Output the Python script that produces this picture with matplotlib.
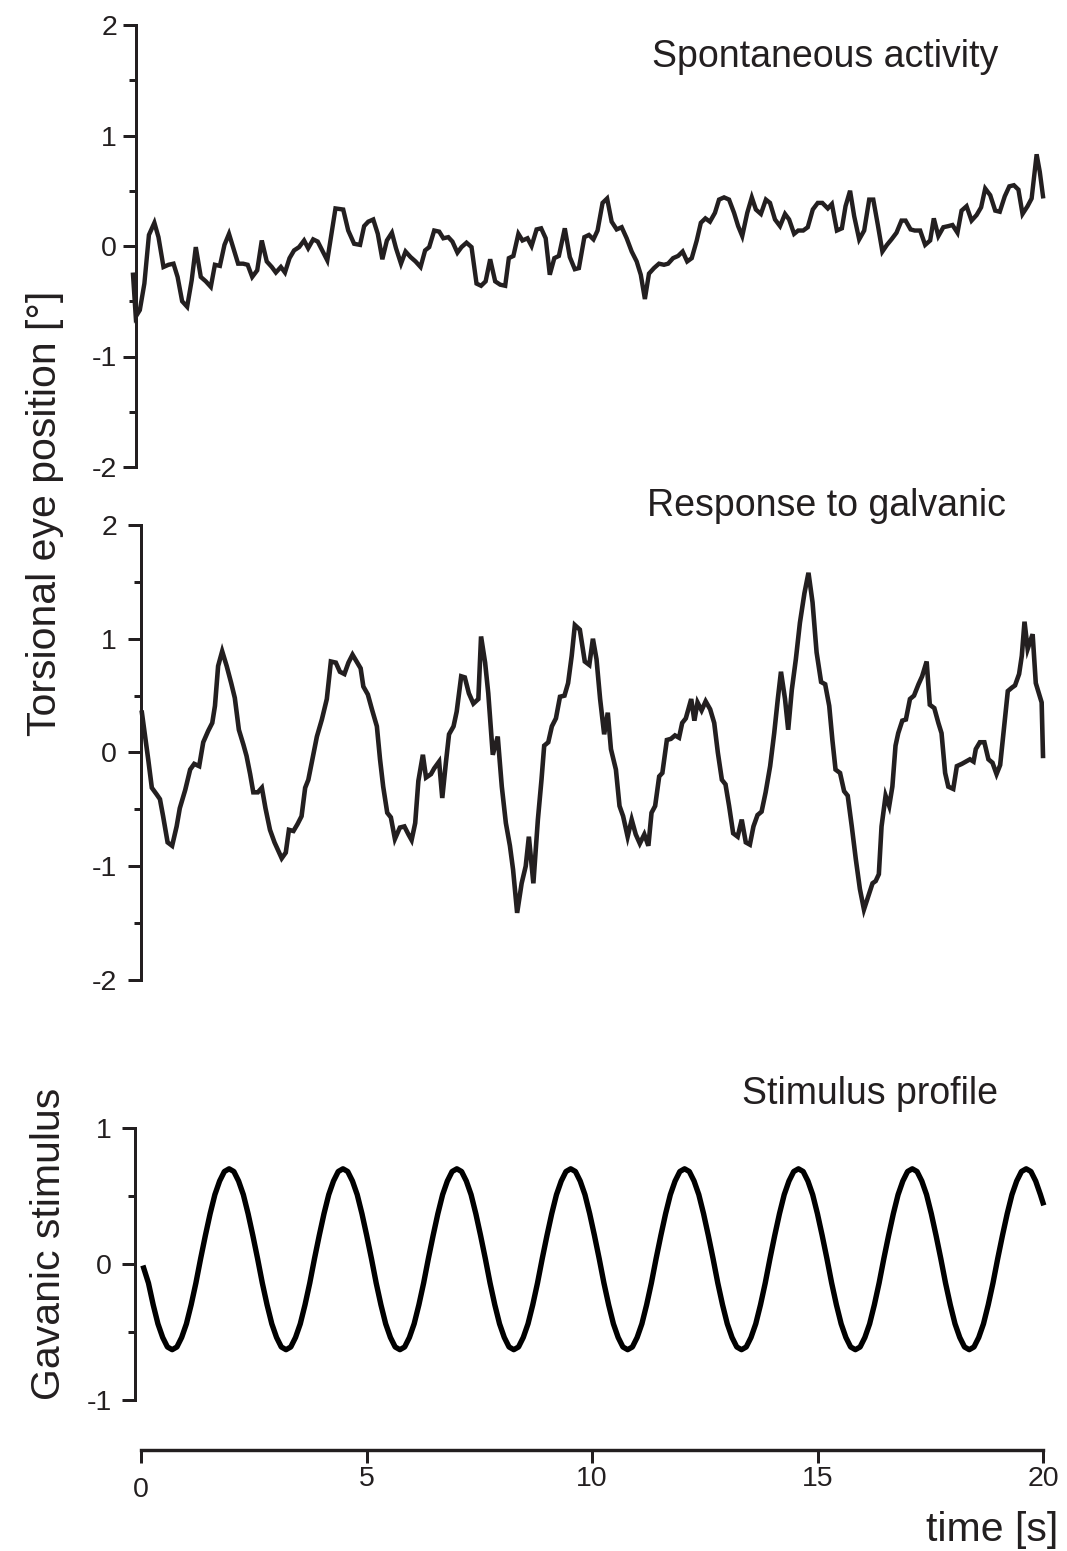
import numpy as np
import matplotlib
matplotlib.use("Agg")
import matplotlib.pyplot as plt
from matplotlib.ticker import MultipleLocator, FixedLocator
import matplotlib.transforms as mtransforms

plt.rcParams['font.family'] = ['Liberation Sans', 'DejaVu Sans']

# ---------------- data ----------------
spont_t = [0.00, 0.06, 0.15, 0.25, 0.35, 0.47, 0.56, 0.67, 0.78, 0.89, 0.98, 1.08, 1.19, 1.29, 1.38, 1.49,
           1.60, 1.71, 1.80, 1.91, 2.01, 2.11, 2.20, 2.31, 2.42, 2.52, 2.62, 2.73, 2.83, 2.94, 3.05, 3.14,
           3.25, 3.34, 3.44, 3.54, 3.65, 3.76, 3.85, 3.96, 4.06, 4.16, 4.27, 4.45, 4.62, 4.73, 4.86, 4.99,
           5.08, 5.17, 5.28, 5.38, 5.48, 5.58, 5.69, 5.78, 5.89, 5.99, 6.10, 6.21, 6.32, 6.42, 6.51, 6.62,
           6.73, 6.82, 6.93, 7.02, 7.13, 7.22, 7.33, 7.44, 7.55, 7.65, 7.75, 7.85, 7.96, 8.07, 8.18, 8.26,
           8.36, 8.47, 8.56, 8.67, 8.76, 8.87, 8.97, 9.07, 9.16, 9.26, 9.36, 9.49, 9.60, 9.71, 9.80, 9.92,
           10.02, 10.12, 10.21, 10.32, 10.42, 10.52, 10.63, 10.74, 10.85, 10.96, 11.07, 11.16, 11.25, 11.34,
           11.45, 11.56, 11.67, 11.76, 11.87, 11.98, 12.08, 12.18, 12.28, 12.39, 12.48, 12.58, 12.68, 12.79,
           12.88, 12.99, 13.10, 13.21, 13.30, 13.39, 13.50, 13.60, 13.69, 13.80, 13.91, 14.00, 14.11, 14.22,
           14.33, 14.42, 14.53, 14.62, 14.73, 14.83, 14.94, 15.05, 15.15, 15.27, 15.36, 15.47, 15.58, 15.66,
           15.76, 15.85, 15.96, 16.07, 16.18, 16.27, 16.37, 16.47, 16.57, 16.67, 16.78, 16.89, 16.98, 17.09,
           17.18, 17.30, 17.41, 17.52, 17.60, 17.70, 17.81, 17.92, 18.01, 18.12, 18.21, 18.32, 18.43, 18.54,
           18.64, 18.73, 18.84, 18.95, 19.05, 19.16, 19.26, 19.36, 19.46, 19.55, 19.66, 19.75, 19.86, 19.93,
           20.00]
spont_v = [-0.26, -0.64, -0.58, -0.34, 0.10, 0.21, 0.08, -0.19, -0.17, -0.16, -0.28, -0.50, -0.55, -0.31, -0.01, -0.28,
           -0.32, -0.37, -0.17, -0.18, 0.01, 0.11, -0.01, -0.16, -0.16, -0.17, -0.28, -0.22, 0.05, -0.14, -0.19, -0.24,
           -0.19, -0.24, -0.11, -0.04, -0.01, 0.05, -0.02, 0.06, 0.04, -0.04, -0.13, 0.34, 0.33, 0.14, 0.02, 0.01,
           0.18, 0.22, 0.24, 0.11, -0.12, 0.05, 0.12, -0.02, -0.16, -0.05, -0.10, -0.14, -0.19, -0.04, -0.01, 0.14,
           0.13, 0.07, 0.08, 0.04, -0.06, -0.01, 0.03, -0.01, -0.34, -0.36, -0.32, -0.12, -0.32, -0.35, -0.36, -0.11,
           -0.09, 0.11, 0.05, 0.07, 0.00, 0.15, 0.16, 0.07, -0.26, -0.11, -0.09, 0.16, -0.10, -0.21, -0.20, 0.08,
           0.10, 0.06, 0.14, 0.39, 0.43, 0.22, 0.15, 0.17, 0.07, -0.05, -0.14, -0.26, -0.48, -0.25,
           -0.20, -0.16, -0.17, -0.16, -0.11, -0.09, -0.05, -0.14, -0.11, 0.05, 0.21, 0.25, 0.22, 0.30,
           0.42, 0.44, 0.42, 0.30, 0.18, 0.09, 0.30, 0.44, 0.33, 0.29, 0.42, 0.39, 0.24, 0.18,
           0.29, 0.24, 0.11, 0.14, 0.14, 0.17, 0.33, 0.39, 0.39, 0.34, 0.38, 0.14, 0.16, 0.36,
           0.50, 0.27, 0.06, 0.14, 0.42, 0.42, 0.19, -0.05, 0.01, 0.06, 0.12, 0.23, 0.23, 0.15,
           0.14, 0.14, 0.01, 0.05, 0.25, 0.09, 0.17, 0.18, 0.19, 0.12, 0.32, 0.36, 0.23, 0.28,
           0.35, 0.52, 0.46, 0.32, 0.31, 0.45, 0.54, 0.55, 0.51, 0.29, 0.36, 0.43, 0.83, 0.67,
           0.45]

galv_t = [0.02, 0.16, 0.24, 0.35, 0.42, 0.49, 0.59, 0.69, 0.79, 0.86, 0.98, 1.09, 1.18, 1.29, 1.38, 1.49,
          1.58, 1.64, 1.71, 1.80, 1.90, 2.00, 2.08, 2.17, 2.27, 2.34, 2.42, 2.49, 2.59, 2.68, 2.76, 2.86,
          2.96, 3.04, 3.12, 3.21, 3.28, 3.38, 3.47, 3.56, 3.64, 3.71, 3.80, 3.90, 4.01, 4.12, 4.21, 4.32,
          4.41, 4.51, 4.60, 4.69, 4.78, 4.87, 4.93, 5.03, 5.12, 5.23, 5.30, 5.37, 5.46, 5.54, 5.63, 5.74,
          5.84, 5.93, 6.00, 6.08, 6.15, 6.25, 6.32, 6.43, 6.50, 6.61, 6.68, 6.76, 6.83, 6.93, 7.00, 7.10,
          7.18, 7.27, 7.37, 7.48, 7.54, 7.63, 7.70, 7.80, 7.91, 8.00, 8.09, 8.18, 8.25, 8.34, 8.44, 8.53,
          8.60, 8.70, 8.80, 8.88, 8.94, 9.03, 9.11, 9.20, 9.29, 9.39, 9.47, 9.55, 9.62, 9.73, 9.84, 9.94,
          10.02, 10.10, 10.18, 10.27, 10.35, 10.42, 10.53, 10.61, 10.69, 10.79, 10.88, 10.97, 11.06, 11.16,
          11.25, 11.32, 11.40, 11.49, 11.56, 11.66, 11.75, 11.84, 11.93, 12.00, 12.08, 12.20, 12.27, 12.34,
          12.43, 12.52, 12.62, 12.71, 12.79, 12.88, 12.96, 13.04, 13.13, 13.23, 13.32, 13.41, 13.50, 13.58,
          13.67, 13.76, 13.85, 13.95, 14.04, 14.12, 14.19, 14.28, 14.35, 14.43, 14.52, 14.61, 14.71, 14.80,
          14.89, 14.98, 15.08, 15.17, 15.26, 15.33, 15.40, 15.50, 15.59, 15.67, 15.76, 15.85, 15.94, 16.03,
          16.13, 16.22, 16.29, 16.36, 16.42, 16.51, 16.59, 16.66, 16.73, 16.79, 16.88, 16.96, 17.05, 17.14,
          17.24, 17.32, 17.42, 17.49, 17.59, 17.68, 17.75, 17.83, 17.90, 18.01, 18.09, 18.20, 18.29, 18.38,
          18.46, 18.51, 18.60, 18.70, 18.79, 18.88, 18.97, 19.05, 19.14, 19.22, 19.31, 19.38, 19.47, 19.53,
          19.59, 19.66, 19.77, 19.84, 19.91, 19.97, 20.00]
galv_v = [0.35, -0.06, -0.31, -0.37, -0.41, -0.56, -0.79, -0.82, -0.65, -0.49, -0.33, -0.15, -0.10, -0.12, 0.09, 0.19,
          0.26, 0.41, 0.76, 0.89, 0.76, 0.61, 0.48, 0.20, 0.07, -0.03, -0.19, -0.35, -0.35, -0.31, -0.49, -0.68,
          -0.79, -0.86, -0.93, -0.88, -0.68, -0.69, -0.63, -0.56, -0.31, -0.24, -0.06, 0.14, 0.29, 0.47, 0.80, 0.79,
          0.71, 0.69, 0.79, 0.86, 0.80, 0.74, 0.58, 0.51, 0.38, 0.23, -0.06, -0.30, -0.53, -0.57, -0.76, -0.66,
          -0.65, -0.72, -0.77, -0.62, -0.25, -0.02, -0.22, -0.19, -0.14, -0.08, -0.40, -0.09, 0.16, 0.23, 0.36, 0.67,
          0.66, 0.52, 0.43, 0.47, 1.02, 0.79, 0.52, -0.02, 0.14, -0.30, -0.62, -0.82, -1.03, -1.41, -1.15, -1.00,
          -0.74, -1.15, -0.59, -0.24, 0.06, 0.09, 0.23, 0.30, 0.49, 0.50, 0.61, 0.85, 1.12, 1.08, 0.80, 0.77,
          1.00, 0.82, 0.47, 0.16, 0.35, 0.03, -0.15, -0.47, -0.56, -0.74, -0.59, -0.72, -0.80, -0.72,
          -0.82, -0.53, -0.47, -0.21, -0.18, 0.11, 0.12, 0.15, 0.13, 0.26, 0.30, 0.47, 0.28, 0.44,
          0.37, 0.45, 0.38, 0.26, 0.00, -0.24, -0.28, -0.47, -0.71, -0.74, -0.59, -0.79, -0.81, -0.65,
          -0.55, -0.52, -0.35, -0.12, 0.17, 0.47, 0.71, 0.47, 0.20, 0.55, 0.82, 1.14, 1.40, 1.58,
          1.32, 0.88, 0.62, 0.60, 0.41, 0.11, -0.15, -0.18, -0.34, -0.38, -0.65, -0.94, -1.20, -1.38,
          -1.26, -1.15, -1.13, -1.07, -0.65, -0.38, -0.47, -0.30, 0.06, 0.17, 0.28, 0.29, 0.47, 0.50,
          0.60, 0.67, 0.80, 0.42, 0.39, 0.26, 0.17, -0.18, -0.30, -0.32, -0.12, -0.10, -0.08, -0.06,
          -0.08, 0.03, 0.09, 0.09, -0.06, -0.09, -0.19, -0.11, 0.23, 0.54, 0.57, 0.59, 0.69, 0.85,
          1.15, 0.91, 1.04, 0.61, 0.52, 0.44, -0.03]

stim_v = [-0.03, -0.14, -0.30, -0.44, -0.54, -0.61, -0.63, -0.61, -0.54, -0.44, -0.30, -0.14,
          0.04, 0.21, 0.37, 0.51, 0.61, 0.68, 0.70, 0.68, 0.61, 0.51, 0.37, 0.21,
          0.04, -0.14, -0.30, -0.44, -0.54, -0.61, -0.63, -0.61, -0.54, -0.44, -0.30, -0.14,
          0.04, 0.21, 0.37, 0.51, 0.61, 0.68, 0.70, 0.68, 0.61, 0.51, 0.37, 0.21,
          0.04, -0.14, -0.30, -0.44, -0.54, -0.61, -0.63, -0.61, -0.54, -0.44, -0.30, -0.14,
          0.04, 0.21, 0.37, 0.51, 0.61, 0.68, 0.70, 0.68, 0.61, 0.51, 0.37, 0.21,
          0.04, -0.14, -0.30, -0.44, -0.54, -0.61, -0.63, -0.61, -0.54, -0.44, -0.30, -0.14,
          0.04, 0.21, 0.37, 0.51, 0.61, 0.68, 0.70, 0.68, 0.61, 0.51, 0.37, 0.21,
          0.04, -0.14, -0.30, -0.44, -0.54, -0.61, -0.63, -0.61, -0.54, -0.44, -0.30, -0.14,
          0.04, 0.21, 0.37, 0.51, 0.61, 0.68, 0.70, 0.68, 0.61, 0.51, 0.37, 0.21,
          0.04, -0.14, -0.30, -0.44, -0.54, -0.61, -0.63, -0.61, -0.54, -0.44, -0.30, -0.14,
          0.04, 0.21, 0.37, 0.51, 0.61, 0.68, 0.70, 0.68, 0.61, 0.51, 0.37, 0.21,
          0.04, -0.14, -0.30, -0.44, -0.54, -0.61, -0.63, -0.61, -0.54, -0.44, -0.30, -0.14,
          0.04, 0.21, 0.37, 0.51, 0.61, 0.68, 0.70, 0.68, 0.61, 0.51, 0.37, 0.21,
          0.04, -0.14, -0.30, -0.44, -0.54, -0.61, -0.63, -0.61, -0.54, -0.44, -0.30, -0.14,
          0.04, 0.21, 0.37, 0.51, 0.61, 0.68, 0.70, 0.68, 0.61, 0.51,
          0.45]
stim_dt = 0.1052
stim_t0 = 0.06
stim_t = [round(stim_t0 + i * stim_dt, 4) for i in range(len(stim_v) - 1)] + [20.0]

titles = ["Spontaneous activity", "Response to galvanic", "Stimulus profile"]
x_ticks = [0, 5, 10, 15, 20]
y_ticks_eye = [-2, -1, 0, 1, 2]
y_ticks_stim = [-1, 0, 1]

# ---------------- figure ----------------
W, H = 1067, 1551
DPI = 100
fig = plt.figure(figsize=(W / DPI, H / DPI), dpi=DPI)
INK = '#231f20'
PX = 72.0 / DPI  # points per pixel
TICK_FS = 20.5


def ax_px(left, right, top, bottom):
    return fig.add_axes([left / W, 1 - bottom / H, (right - left) / W, (bottom - top) / H])


def style(ax, yticks, pad_px):
    for s in ['top', 'right', 'bottom']:
        ax.spines[s].set_visible(False)
    ax.spines['left'].set_linewidth(3.0 * PX)
    ax.spines['left'].set_color(INK)
    ax.set_yticks(yticks)
    ax.set_yticklabels([str(v) for v in yticks])
    ax.yaxis.set_minor_locator(MultipleLocator(0.5))
    ax.tick_params(axis='y', which='major', direction='out', length=13 * PX, width=3.0 * PX,
                   color=INK, labelsize=TICK_FS, labelcolor=INK, pad=pad_px * PX)
    ax.tick_params(axis='y', which='minor', direction='out', length=7 * PX, width=3.0 * PX, color=INK)
    ax.tick_params(axis='x', which='both', bottom=False, labelbottom=False)
    ax.set_xlim(0, 20)
    ax.patch.set_visible(False)


ax1 = ax_px(133, 1043, 25, 467)
ax2 = ax_px(141, 1043, 525, 980)
ax3 = ax_px(141, 1043, 1128, 1400)

style(ax1, y_ticks_eye, 6)
ax1.set_ylim(-2, 2)
ax1.spines['left'].set_position(('outward', -3 * PX))
ax1.plot(spont_t, spont_v, color=INK, lw=4.4 * PX, solid_joinstyle='miter', clip_on=False)

style(ax2, y_ticks_eye, 11)
ax2.set_ylim(-2, 2)
ax2.plot(galv_t, galv_v, color=INK, lw=4.6 * PX, solid_joinstyle='miter', clip_on=False)

style(ax3, y_ticks_stim, 10)
ax3.set_ylim(-1, 1)
ax3.spines['left'].set_position(('outward', 6 * PX))
ax3.plot(stim_t, stim_v, color='black', lw=5.4 * PX, clip_on=False)

# bottom time axis
ax3.spines['bottom'].set_visible(True)
ax3.spines['bottom'].set_position(('outward', 50 * PX))
ax3.spines['bottom'].set_linewidth(3.4 * PX)
ax3.spines['bottom'].set_color(INK)
ax3.xaxis.set_major_locator(FixedLocator(x_ticks))
ax3.set_xticklabels([str(v) for v in x_ticks])
ax3.tick_params(axis='x', which='major', bottom=True, labelbottom=True, direction='out',
                length=13 * PX, width=3.0 * PX, color=INK, labelsize=TICK_FS, labelcolor=INK, pad=2)
ax3.tick_params(axis='x', which='minor', bottom=False)
# the "0" label sits a little lower in the reference
lab0 = ax3.get_xticklabels()[0]
lab0.set_transform(lab0.get_transform() + mtransforms.ScaledTranslation(0, -11 / DPI, fig.dpi_scale_trans))

# titles
fig.text(998 / W, 1 - 67 / H, titles[0], ha='right', va='baseline', fontsize=27, color=INK)
fig.text(1006 / W, 1 - 516 / H, titles[1], ha='right', va='baseline', fontsize=27, color=INK)
fig.text(998 / W, 1 - 1104 / H, titles[2], ha='right', va='baseline', fontsize=27, color=INK)

# axis labels
fig.text(45 / W, 1 - 513 / H, "Torsional eye position [°]", rotation=90, ha='center', va='center',
         fontsize=29.5, color=INK)
fig.text(49 / W, 1 - 1244 / H, "Gavanic stimulus", rotation=90, ha='center', va='center',
         fontsize=29.5, color=INK)
fig.text(1058 / W, 1 - 1541 / H, "time [s]", ha='right', va='baseline', fontsize=29.5, color=INK)

fig.savefig("out.png", dpi=DPI, facecolor='white')
